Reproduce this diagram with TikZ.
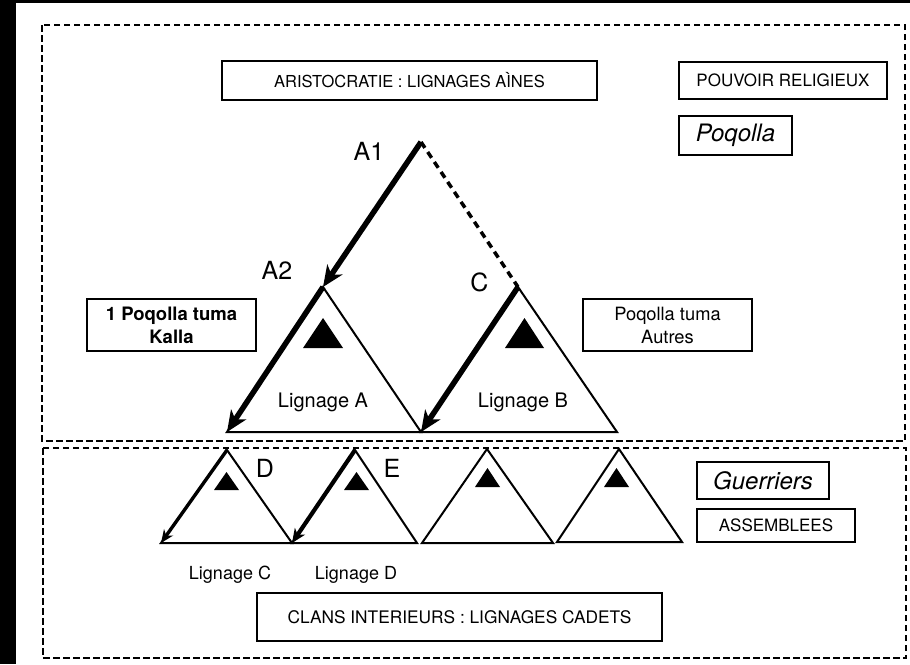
\documentclass[tikz,border=0pt]{standalone}
\usepackage{fontspec}
\setmainfont{TeX Gyre Heros}
\usetikzlibrary{arrows.meta}
\begin{document}
\begin{tikzpicture}[x=1pt,y=-1pt,
  zone/.style={draw, line width=2.3pt, dash pattern=on 6.5pt off 3.5pt},
  lbox/.style={draw, line width=1.2pt, inner sep=0pt, align=center},
  tri/.style={draw, line width=2pt, line join=miter},
  blk/.style={fill=black},
  bigarrow/.style={line width=5.5pt, -{Stealth[length=21pt,width=18pt,inset=6pt]}},
  smallarrow/.style={line width=3.4pt, -{Stealth[length=13pt,width=11pt,inset=4pt]}},
  letter/.style={anchor=base, inner sep=0pt, font=\fontsize{25}{30}\selectfont},
  lig/.style={anchor=base, inner sep=0pt, font=\fontsize{20}{24}\selectfont},
  ligs/.style={anchor=base, inner sep=0pt, font=\fontsize{18}{22}\selectfont}]
\useasboundingbox (0,0) rectangle (910,664);
\fill[black] (0,0) rectangle (910,664);
\fill[white] (16,3) rectangle (910,664);
% zones
\draw[zone] (42,25) rectangle (905,441);
\draw[zone] (43,448) rectangle (906,658);
% boxes
\node[lbox, minimum width=375pt, minimum height=39pt, font=\fontsize{16.5}{20}\selectfont] (aristo) at (409.5,80.5) {ARISTOCRATIE : LIGNAGES AÌNES};
\node[lbox, minimum width=208pt, minimum height=37pt, font=\fontsize{17}{20}\selectfont] (pouvoir) at (783,80.5) {POUVOIR RELIGIEUX};
\node[lbox, minimum width=113pt, minimum height=39pt, font=\fontsize{24}{28}\selectfont\itshape] (poq) at (735.5,135.5) {Poqolla};
\node[lbox, line width=2.2pt, minimum width=169pt, minimum height=52pt, font=\fontsize{18.5}{23}\selectfont\bfseries] (kalla) at (171.5,325) {1 Poqolla tuma\\Kalla};
\node[lbox, minimum width=169pt, minimum height=52pt, font=\fontsize{18.3}{23}\selectfont] (autres) at (667.5,325) {Poqolla tuma\\Autres};
\node[lbox, minimum width=132pt, minimum height=37pt, font=\fontsize{24}{28}\selectfont\itshape] (guer) at (763,480.5) {Guerriers};
\node[lbox, minimum width=158pt, minimum height=33pt, font=\fontsize{17}{20}\selectfont] (assem) at (776,525.5) {ASSEMBLEES};
\node[lbox, minimum width=405pt, minimum height=48pt, font=\fontsize{17.3}{20}\selectfont] (clans) at (459.5,617) {CLANS INTERIEURS : LIGNAGES CADETS};
% coordinates
\coordinate (top) at (421,142);
\coordinate (aT) at (323,287);
\coordinate (aL) at (227,432);
\coordinate (aR) at (421,432);
\coordinate (bT) at (518,287);
\coordinate (bR) at (617,432);
\coordinate (cT) at (227,450);
\coordinate (cL) at (161,543);
\coordinate (cR) at (292,543);
\coordinate (dT) at (355,450);
\coordinate (dR) at (417,543);
\coordinate (eT) at (487,449);
\coordinate (eL) at (422,543);
\coordinate (eR) at (553,543);
\coordinate (fT) at (619,449);
\coordinate (fL) at (557,542);
\coordinate (fR) at (682,542);
% triangles
\draw[tri] (aT) -- (aR) -- (aL) -- cycle;
\draw[tri] (bT) -- (bR) -- (aR) -- cycle;
\draw[tri] (cT) -- (cR) -- (cL) -- cycle;
\draw[tri] (dT) -- (dR) -- (cR) -- cycle;
\draw[tri] (eT) -- (eR) -- (eL) -- cycle;
\draw[tri] (fT) -- (fR) -- (fL) -- cycle;
% black small triangles
\fill[blk] (323,318) -- (343,348) -- (303,348) -- cycle;
\fill[blk] (524.5,318) -- (544,348) -- (505,348) -- cycle;
\fill[blk] (226.5,472) -- (239,490) -- (214,490) -- cycle;
\fill[blk] (356.5,472) -- (369,490) -- (344,490) -- cycle;
\fill[blk] (487.5,468) -- (500,487) -- (475,487) -- cycle;
\fill[blk] (616.5,468) -- (629,487) -- (604,487) -- cycle;
% connectors
\draw[line width=3.5pt, dash pattern=on 7pt off 5pt] (top) -- (bT);
\draw[bigarrow] (top) -- (aT);
\draw[bigarrow] (aT) -- (aL);
\draw[bigarrow] (bT) -- (aR);
\draw[smallarrow] (cT) -- (cL);
\draw[line width=4.2pt, -{Stealth[length=14pt,width=12pt,inset=4pt]}] (dT) -- (cR);
% labels
\node[letter] (lA1) at (369,160) {A1};
\node[letter] (lA2) at (277,279) {A2};
\node[letter] (lC) at (479.5,291) {C};
\node[letter] (lD) at (265,477) {D};
\node[letter] (lE) at (392,477) {E};
\node[lig] (ligA) at (323,407) {Lignage A};
\node[lig] (ligB) at (523,407) {Lignage B};
\node[ligs] (ligC) at (230,579) {Lignage C};
\node[ligs] (ligD) at (356,579) {Lignage D};
\end{tikzpicture}
\end{document}
